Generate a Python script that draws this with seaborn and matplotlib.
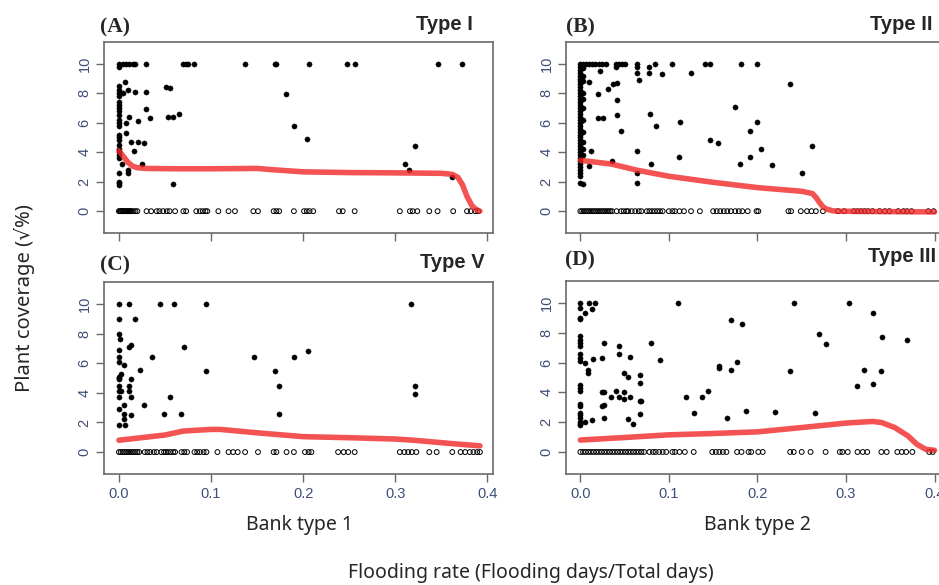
import pandas as pd
import matplotlib
matplotlib.use("Agg")
import matplotlib.pyplot as plt
import seaborn as sns

# ---- data ----
# (A) Bank type 1, Type I
a_fill_x = [0]*26 + [0.004, 0.008, 0.011, 0.015, 0.018, 0.007, 0.010, 0.004, 0.011, 0.008, 0.008, 0.013, 0.016, 0.003,
                     0.010, 0.010, 0.017, 0.021, 0.021, 0.027, 0.025, 0.029, 0.029, 0.029, 0.034, 0.051, 0.056, 0.053,
                     0.059, 0.065, 0.059, 0.070, 0.073, 0.075, 0.082, 0.137, 0.169, 0.171, 0.181, 0.190, 0.204, 0.206,
                     0.248, 0.256, 0.311, 0.315, 0.322, 0.346, 0.362, 0.372]
a_fill_y = [10, 9.8, 8.5, 8.2, 8.0, 7.8, 7.4, 7.2, 7.0, 6.8, 6.5, 6.2, 6.0, 5.8, 5.2, 5.0, 4.8, 4.5, 4.2, 4.0, 3.8, 3.6,
            2.6, 2.0, 1.9, 1.8,
            10, 10, 10, 10, 10, 8.75, 8.25, 8.0, 6.4, 6.0, 5.3, 4.7, 4.1, 3.2,
            2.6, 2.8, 8.1, 6.1, 4.7, 4.6, 3.2, 10, 8.1, 6.9, 6.3, 8.4, 8.35, 6.4,
            6.4, 6.6, 1.85, 10, 10, 10, 10, 10, 10, 10, 7.95, 5.8, 4.9, 10,
            10, 10, 3.2, 2.8, 4.45, 10, 2.3, 10]
a_zero_x = [0, 0.001, 0.002, 0.003, 0.004, 0.005, 0.006, 0.007, 0.008, 0.009, 0.010, 0.011, 0.012, 0.013, 0.014,
            0.016, 0.018, 0.020, 0.030, 0.035, 0.041, 0.044, 0.048, 0.052, 0.055, 0.061, 0.070, 0.073, 0.084,
            0.088, 0.091, 0.094, 0.096, 0.108, 0.119, 0.126, 0.146, 0.151, 0.168, 0.171, 0.174, 0.190, 0.201,
            0.204, 0.207, 0.211, 0.239, 0.243, 0.256, 0.305, 0.316, 0.319, 0.324, 0.337, 0.346, 0.363, 0.378,
            0.382, 0.387, 0.390]
a_line_x = [0, 0.005, 0.010, 0.015, 0.02, 0.03, 0.06, 0.10, 0.15, 0.17, 0.20, 0.25, 0.30, 0.35, 0.362, 0.368,
            0.373, 0.378, 0.383, 0.387, 0.392]
a_line_y = [4.1, 3.7, 3.3, 3.05, 2.95, 2.9, 2.88, 2.88, 2.9, 2.8, 2.67, 2.62, 2.6, 2.57, 2.5, 2.3,
            1.8, 1.0, 0.4, 0.15, 0.0]

# (B) Bank type 2, Type II
b_fill_x = [0]*40 + [0.003]*13 + [
    0.006, 0.010, 0.013, 0.017, 0.021, 0.025, 0.029, 0.010, 0.010, 0.012, 0.022, 0.020, 0.020, 0.026, 0.031, 0.037,
    0.041, 0.036, 0.041, 0.041, 0.046, 0.040, 0.040, 0.044, 0.047, 0.050, 0.064, 0.064, 0.064, 0.066, 0.064, 0.064,
    0.064, 0.077, 0.077, 0.079, 0.080, 0.084, 0.086, 0.092, 0.103, 0.111, 0.112, 0.125, 0.141, 0.146, 0.146, 0.155,
    0.175, 0.180, 0.181, 0.192, 0.192, 0.200, 0.200, 0.204, 0.217, 0.237, 0.250, 0.262]
b_fill_y = [10, 9.8, 9.6, 9.4, 9.2, 9.0, 8.8, 8.6, 8.4, 8.2, 8.0, 7.8, 7.6, 7.4, 7.2, 7.0, 6.8, 6.6, 6.4, 6.2,
            6.0, 5.8, 5.6, 5.4, 5.2, 5.0, 4.8, 4.6, 4.4, 4.2, 4.0, 3.8, 3.6, 3.4, 3.2, 3.0, 2.8, 2.6, 2.4, 1.9,
            10, 9.7, 9.2, 8.8, 8.0, 7.6, 7.0, 6.2, 5.4, 4.7, 4.2, 3.8, 1.85,
            10, 10, 10, 10, 10, 10, 10, 8.75, 3.05, 4.1, 9.5, 7.95, 6.3, 6.3, 8.3, 8.6,
            8.7, 3.4, 7.55, 6.55, 5.45, 9.8, 10, 10, 10, 10, 10, 9.8, 9.4, 8.9, 4.1, 2.6,
            1.9, 9.8, 9.4, 6.6, 3.2, 10, 5.8, 9.3, 10, 3.7, 6.05, 9.4, 10, 10, 4.85, 4.65,
            7.1, 3.2, 10, 5.45, 3.7, 6.05, 10, 4.25, 3.15, 8.6, 2.6, 4.45]
b_zero_x = [0, 0.002, 0.004, 0.006, 0.008, 0.010, 0.012, 0.014, 0.016, 0.018, 0.020, 0.022, 0.024, 0.026, 0.028,
            0.030, 0.032, 0.034, 0.036, 0.041, 0.046, 0.049, 0.052, 0.054, 0.058, 0.062, 0.066, 0.069, 0.075,
            0.078, 0.081, 0.084, 0.087, 0.090, 0.093, 0.100, 0.104, 0.107, 0.112, 0.117, 0.125, 0.135, 0.150,
            0.154, 0.158, 0.162, 0.166, 0.170, 0.175, 0.179, 0.183, 0.189, 0.199, 0.201, 0.235, 0.238, 0.249,
            0.256, 0.261, 0.266, 0.274, 0.291, 0.298, 0.309, 0.313, 0.317, 0.321, 0.325, 0.330, 0.338, 0.344,
            0.349, 0.359, 0.365, 0.369, 0.374, 0.393, 0.399]
b_line_x = [0, 0.035, 0.064, 0.10, 0.15, 0.20, 0.25, 0.262, 0.266, 0.27, 0.274, 0.278, 0.285, 0.29, 0.35, 0.40]
b_line_y = [3.45, 3.2, 2.78, 2.37, 1.96, 1.6, 1.35, 1.2, 0.95, 0.6, 0.3, 0.14, 0.03, 0.0, -0.03, -0.05]

# (C) Bank type 1, Type V
c_fill_x = [0]*14 + [0.0015, 0.0025, 0.0025, 0.005, 0.005, 0.005, 0.005, 0.007, 0.0105, 0.0105, 0.0105, 0.0105,
                     0.013, 0.013, 0.013, 0.013, 0.018, 0.023, 0.027, 0.036, 0.045, 0.049, 0.055, 0.060, 0.067,
                     0.071, 0.095, 0.095, 0.147, 0.169, 0.174, 0.174, 0.190, 0.205, 0.317, 0.322, 0.322]
c_fill_y = [10, 9.0, 8.0, 6.9, 6.4, 6.1, 5.1, 5.0, 4.9, 4.45, 4.1, 3.7, 2.9, 1.8,
            7.6, 5.3, 4.1, 5.9, 3.2, 2.6, 2.25, 1.8, 10, 7.1, 4.45, 4.1,
            7.2, 4.9, 3.7, 2.5, 9.0, 5.55, 3.2, 6.4, 10, 2.6, 3.7, 10, 2.6,
            7.1, 10, 5.5, 6.4, 5.5, 4.45, 2.6, 6.4, 6.85, 10, 4.45, 3.9]
c_zero_x = [0, 0.002, 0.004, 0.006, 0.008, 0.010, 0.012, 0.014, 0.016, 0.018, 0.020, 0.022, 0.028, 0.031, 0.034,
            0.038, 0.041, 0.046, 0.049, 0.051, 0.053, 0.056, 0.059, 0.061, 0.068, 0.071, 0.074, 0.082, 0.085,
            0.088, 0.092, 0.095, 0.107, 0.119, 0.124, 0.129, 0.137, 0.151, 0.168, 0.171, 0.182, 0.190, 0.202,
            0.206, 0.209, 0.238, 0.244, 0.249, 0.256, 0.305, 0.310, 0.314, 0.318, 0.323, 0.337, 0.345, 0.362,
            0.371, 0.376, 0.381, 0.385, 0.389, 0.392]
c_line_x = [0, 0.05, 0.07, 0.10, 0.11, 0.15, 0.20, 0.25, 0.30, 0.32, 0.36, 0.392]
c_line_y = [0.8, 1.15, 1.42, 1.53, 1.53, 1.3, 1.04, 0.97, 0.88, 0.8, 0.58, 0.42]

# (D) Bank type 2, Type III
d_fill_x = [0]*22 + [0.005, 0.005, 0.005, 0.009, 0.009, 0.010, 0.013, 0.013, 0.014, 0.017, 0.024, 0.024, 0.025,
                     0.027, 0.027, 0.027, 0.027, 0.035, 0.040, 0.044, 0.044, 0.044, 0.049, 0.049, 0.049, 0.054,
                     0.054, 0.056, 0.056, 0.059, 0.067, 0.067, 0.067, 0.068, 0.067, 0.080, 0.090, 0.110, 0.119,
                     0.128, 0.137, 0.144, 0.157, 0.157, 0.166, 0.170, 0.170, 0.177, 0.183, 0.187, 0.220, 0.237,
                     0.241, 0.265, 0.269, 0.277, 0.303, 0.312, 0.320, 0.330, 0.330, 0.339, 0.341, 0.369]
d_fill_y = [10, 9.7, 9.0, 8.9, 7.8, 7.5, 7.3, 7.1, 6.6, 6.3, 6.1, 4.5, 4.3, 4.1, 3.2, 3.1, 2.6, 2.5, 2.3, 2.0,
            1.9, 1.8,
            9.3, 6.0, 2.0, 5.5, 5.3, 10, 9.6, 2.15, 6.25, 10, 6.3, 4.0, 3.1,
            7.3, 4.0, 2.3, 3.15, 3.7, 4.1, 7.1, 6.55, 3.7, 5.3, 4.0, 3.55, 5.05,
            2.2, 6.35, 3.7, 1.85, 5.2, 4.65, 3.4, 3.45, 2.55, 7.3, 6.2, 10, 3.7,
            2.6, 3.7, 4.1, 5.8, 5.65, 2.25, 8.85, 5.5, 6.05, 8.6, 2.75, 2.7, 5.45,
            10, 2.6, 7.95, 7.25, 10, 4.45, 5.5, 9.3, 4.55, 5.45, 7.75, 7.5]
d_zero_x = [0, 0.003, 0.006, 0.009, 0.012, 0.015, 0.018, 0.021, 0.024, 0.027, 0.030, 0.033, 0.036, 0.039, 0.042,
            0.045, 0.048, 0.051, 0.054, 0.057, 0.060, 0.063, 0.066, 0.069, 0.072, 0.078, 0.082, 0.085, 0.089,
            0.093, 0.097, 0.104, 0.107, 0.112, 0.118, 0.128, 0.149, 0.153, 0.157, 0.161, 0.165, 0.177, 0.182,
            0.190, 0.193, 0.201, 0.206, 0.237, 0.241, 0.250, 0.260, 0.277, 0.293, 0.296, 0.302, 0.313, 0.319,
            0.324, 0.340, 0.346, 0.358, 0.363, 0.368, 0.375, 0.394, 0.398]
d_line_x = [0, 0.05, 0.10, 0.15, 0.20, 0.25, 0.30, 0.33, 0.34, 0.355, 0.37, 0.38, 0.39, 0.40]
d_line_y = [0.8, 0.97, 1.15, 1.24, 1.35, 1.64, 1.94, 2.05, 1.98, 1.64, 1.08, 0.52, 0.18, 0.11]

panels = [
    ("(A)", "Type I", a_fill_x, a_fill_y, a_zero_x, a_line_x, a_line_y),
    ("(B)", "Type II", b_fill_x, b_fill_y, b_zero_x, b_line_x, b_line_y),
    ("(C)", "Type V", c_fill_x, c_fill_y, c_zero_x, c_line_x, c_line_y),
    ("(D)", "Type III", d_fill_x, d_fill_y, d_zero_x, d_line_x, d_line_y),
]
xticks = [0.0, 0.1, 0.2, 0.3, 0.4]
xtick_labels = ["0.0", "0.1", "0.2", "0.3", "0.4"]
yticks = [0, 2, 4, 6, 8, 10]

sns.set_style("white")
plt.rcParams['font.family'] = ['Liberation Sans', 'DejaVu Sans']

W, H = 939, 585
fig = plt.figure(figsize=(W / 100, H / 100), dpi=100)

# axes boxes in pixels: left, top, right, bottom
boxes = [(104, 42, 493, 233), (566, 42, 940, 233), (104, 282, 493, 474), (566, 281, 940, 474)]
# label positions: (tag x, tag y, type right x, type y)
labels_pos = [(100, 27, 473, 25), (566, 27, 933, 25), (100, 265, 485, 262), (565, 260, 936, 257)]
tick_col = "#3e4e78"
frame_col = "#6a6a6a"

for i, ((tag, typ, fx, fy, zx, lx, ly), (l, t, r, b), (tx, ty, px, py)) in enumerate(
        zip(panels, boxes, labels_pos)):
    ax = fig.add_axes([l / W, 1 - b / H, (r - l) / W, (b - t) / H])
    sns.scatterplot(x=zx, y=[0] * len(zx), ax=ax, marker="o", s=12, facecolors="none",
                    edgecolor="black", linewidth=0.7, zorder=2)
    sns.scatterplot(x=fx, y=fy, ax=ax, marker="o", s=14, color="black", edgecolor="black",
                    linewidth=0.3, zorder=3)
    sns.lineplot(x=lx, y=ly, ax=ax, color="#f02828", linewidth=4.0, alpha=0.8, sort=False, zorder=4)
    ax.set_xlim(-0.0162, 0.4062)
    ax.set_ylim(-1.48, 11.48)
    ax.set_xticks(xticks)
    if i < 2:
        ax.set_xticklabels([])
    else:
        ax.set_xticklabels(xtick_labels)
    ax.set_yticks(yticks)
    ax.set_yticklabels([str(v) for v in yticks], rotation=90, va="center")
    ax.tick_params(axis="both", direction="out", length=6, width=1.0, color=frame_col,
                   labelcolor=tick_col, labelsize=10.5, pad=3, left=True, bottom=True)
    for sp in ax.spines.values():
        sp.set_color(frame_col)
        sp.set_linewidth(1.2)
    ax.set_xlabel("")
    ax.set_ylabel("")
    fig.text(tx / W, 1 - ty / H, tag, family="Liberation Serif", weight="bold", fontsize=15.5,
             ha="left", va="center")
    fig.text(px / W, 1 - py / H, typ, weight="bold", fontsize=14.5, ha="right", va="center")

fig.text(300 / W, 1 - 525 / H, "Bank type 1", family="Noto Sans", fontsize=14, ha="center", va="center")
fig.text(757 / W, 1 - 525 / H, "Bank type 2", family="Noto Sans", fontsize=14, ha="center", va="center")
fig.text(531 / W, 1 - 573 / H, "Flooding rate (Flooding days/Total days)", family="Noto Sans",
         fontsize=14, ha="center", va="center")
fig.text(25 / W, 1 - 298 / H, "Plant coverage (√%)", family=["Noto Sans", "DejaVu Sans"], fontsize=14.5,
         rotation=90, ha="center", va="center")

fig.savefig("out.png", dpi=100)
